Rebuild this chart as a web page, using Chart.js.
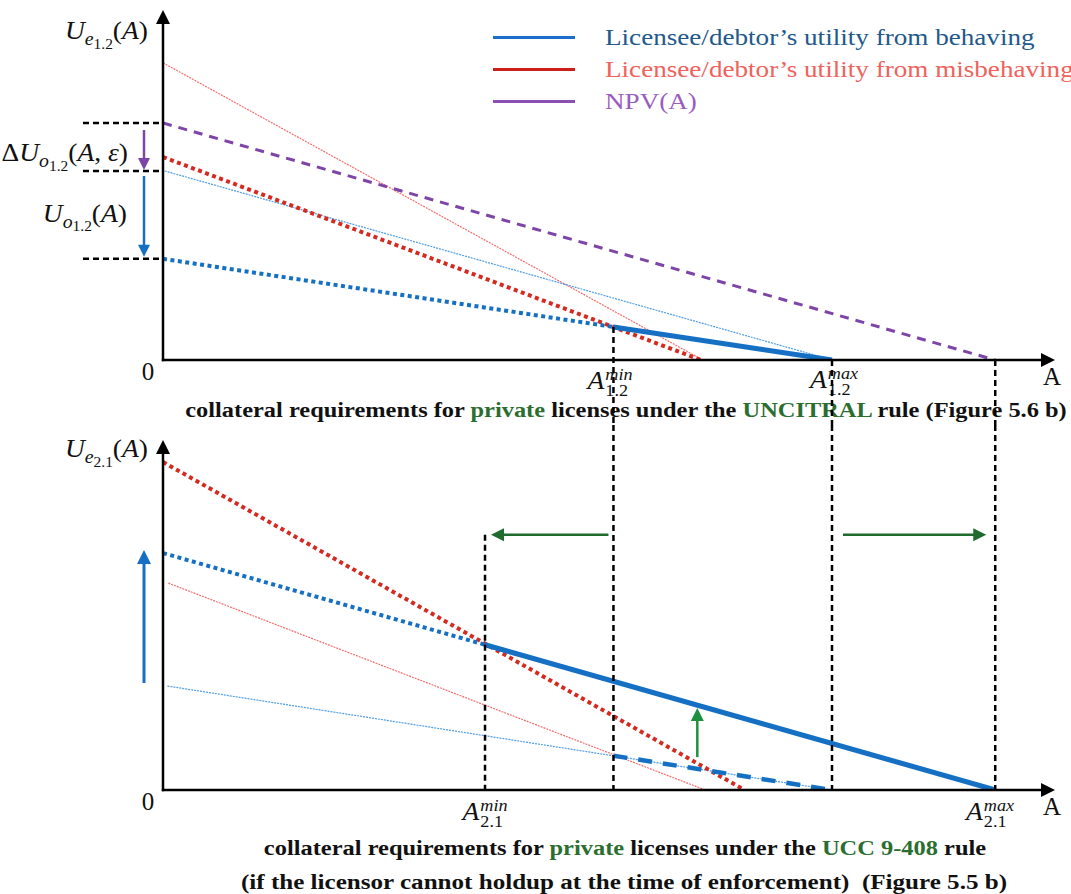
<!DOCTYPE html>
<html>
<head>
<meta charset="utf-8">
<title>Collateral requirements for private licenses</title>
<script src="https://cdn.jsdelivr.net/npm/chart.js@4.4.1/dist/chart.umd.min.js"></script>
<style>
  body { margin: 0; background: #fff; }
  #page { position: relative; width: 1071px; height: 894px; overflow: hidden;
          font-family: "Liberation Serif", "Times New Roman", serif; color: #111; }
  .box { position: absolute; left: 0; width: 1071px; z-index: 2; }
  #topBox { top: 0; height: 425px; }
  #botBox { top: 425px; height: 469px; }
  .lbl { position: absolute; white-space: nowrap; line-height: 1; z-index: 1; }
  .math { font-size: 25px; }
  .s1 { font-size: 0.72em; position: relative; top: 0.36em; }
  .s2 { font-size: 0.78em; position: relative; top: 0.22em; font-style: normal; }
  .ss { display: inline-block; vertical-align: -0.45em; font-size: 0.66em; line-height: 0.95; margin-left: 1px; }
  .ss span { display: block; }
  .cap { font-weight: bold; font-size: 20px; }
  .g { color: #2b6e30; }
  #legend { position: absolute; left: 493px; top: 21px; z-index: 1; }
  .lg { display: flex; align-items: center; height: 32px; font-size: 24px; }
  .lg i { display: inline-block; width: 82px; height: 3px; margin-right: 30px; }
  .lg span { display: inline-block; transform: scaleX(1.13); transform-origin: left center; white-space: nowrap; }
</style>
</head>
<body>
<div id="page">
  <div id="legend">
    <div class="lg" style="color:#22598a"><i style="background:#1a70c8"></i><span>Licensee/debtor’s utility from behaving</span></div>
    <div class="lg" style="color:#f0625c"><i style="background:#cc1f1a"></i><span>Licensee/debtor’s utility from misbehaving</span></div>
    <div class="lg" style="color:#9a5cc0"><i style="background:#8a4fb0"></i><span>NPV(A)</span></div>
  </div>

  <div id="lblTopY" class="lbl math"><i>U</i><span class="s1"><i>e</i><span class="s2">1.2</span></span>(<i>A</i>)</div>
  <div id="lblDelta" class="lbl math">Δ<i>U</i><span class="s1"><i>o</i><span class="s2">1.2</span></span>(<i>A</i>, <i>ε</i>)</div>
  <div id="lblUo" class="lbl math"><i>U</i><span class="s1"><i>o</i><span class="s2">1.2</span></span>(<i>A</i>)</div>
  <div id="lblTop0" class="lbl math">0</div>
  <div id="lblTopA" class="lbl math">A</div>
  <div id="lblTopMin" class="lbl math"><i>A</i><span class="ss"><span><i>min</i></span><span>1.2</span></span></div>
  <div id="lblTopMax" class="lbl math"><i>A</i><span class="ss"><span><i>max</i></span><span>1.2</span></span></div>
  <div id="cap1" class="lbl cap">collateral requirements for <span class="g">private</span> licenses under the <span class="g">UNCITRAL</span> rule (Figure 5.6 b)</div>

  <div id="lblBotY" class="lbl math"><i>U</i><span class="s1"><i>e</i><span class="s2">2.1</span></span>(<i>A</i>)</div>
  <div id="lblBot0" class="lbl math">0</div>
  <div id="lblBotA" class="lbl math">A</div>
  <div id="lblBotMin" class="lbl math"><i>A</i><span class="ss"><span><i>min</i></span><span>2.1</span></span></div>
  <div id="lblBotMax" class="lbl math"><i>A</i><span class="ss"><span><i>max</i></span><span>2.1</span></span></div>
  <div id="cap2" class="lbl cap">collateral requirements for <span class="g">private</span> licenses under the <span class="g">UCC 9-408</span> rule</div>
  <div id="cap3" class="lbl cap">(if the licensor cannot holdup at the time of enforcement)&nbsp;&nbsp;(Figure 5.5 b)</div>

  <div id="topBox" class="box"><canvas id="topChart"></canvas></div>
  <div id="botBox" class="box"><canvas id="botChart"></canvas></div>
</div>

<script>
// ---- top panel: UNCITRAL rule (Figure 5.6 b) ----
const A_MIN_12 = 5.05;
const A_MAX_12 = 7.5;
const NPV_ZERO = 9.33;

const topMisThinA = [0, 6.05];          const topMisThinU = [8.49, 0];
const topNpvA = [0, NPV_ZERO];           const topNpvU = [6.77, 0];
const topMisA = [0, 6.03];               const topMisU = [5.8, 0];
const topBehThinA = [0.02, A_MAX_12];    const topBehThinU = [5.4, 0];
const topBehDotA = [0, A_MIN_12];        const topBehDotU = [2.89, 0.944];
const topBehA = [A_MIN_12, A_MAX_12];    const topBehU = [0.944, 0];

// ---- bottom panel: UCC 9-408 rule (Figure 5.5 b) ----
const A_MIN_21 = 3.61;
const A_MAX_21 = 9.33;

const botMisA = [0, 6.52];               const botMisU = [9.37, 0];
const botMisThinA = [0.06, 6.08];        const botMisThinU = [5.91, 0];
const botBehDotA = [0, A_MIN_21];        const botBehDotU = [6.77, 4.15];
const botBehA = [A_MIN_21, A_MAX_21];    const botBehU = [4.15, 0];
const botBehThinA = [0.05, A_MAX_12];    const botBehThinU = [2.97, 0];
const botBehDashA = [A_MIN_12, A_MAX_12]; const botBehDashU = [0.98, 0];

// arrows in the bottom panel
const liftArrowA = 5.99;  const liftArrowU = [0.94, 2.34];
const shiftArrowU = 7.29;

const BLUE = '#1570c4', RED = '#d42a1f', PURPLE = '#7d45a8';
const THIN_BLUE = '#4f9de2', THIN_RED = '#f26e6e';

const pts = (xs, ys) => xs.map((x, i) => ({ x, y: ys[i] }));

function series(xs, ys, color, width, dash) {
    return {
        data: pts(xs, ys),
        borderColor: color,
        borderWidth: width,
        borderDash: dash || [],
        borderCapStyle: 'butt',
        pointRadius: 0,
        fill: false,
        tension: 0
    };
}

function dashLine(ctx, x1, y1, x2, y2) {
    ctx.save();
    ctx.strokeStyle = '#000';
    ctx.lineWidth = 2.5;
    ctx.setLineDash([6, 4]);
    ctx.beginPath(); ctx.moveTo(x1, y1); ctx.lineTo(x2, y2); ctx.stroke();
    ctx.restore();
}

function arrow(ctx, x1, y1, x2, y2, color, width, head) {
    const ang = Math.atan2(y2 - y1, x2 - x1);
    const c = Math.cos(ang), s = Math.sin(ang);
    ctx.save();
    ctx.strokeStyle = color; ctx.fillStyle = color;
    ctx.lineWidth = width; ctx.setLineDash([]);
    ctx.beginPath(); ctx.moveTo(x1, y1); ctx.lineTo(x2 - c * head * 0.7, y2 - s * head * 0.7); ctx.stroke();
    ctx.beginPath();
    ctx.moveTo(x2, y2);
    ctx.lineTo(x2 - c * head - s * head * 0.5, y2 - s * head + c * head * 0.5);
    ctx.lineTo(x2 - c * head + s * head * 0.5, y2 - s * head - c * head * 0.5);
    ctx.closePath(); ctx.fill();
    ctx.restore();
}

function axes(ctx, a) {
    arrow(ctx, a.left, a.bottom + 1.2, a.left, a.top, '#000', 2.5, 14);
    arrow(ctx, a.left - 1.2, a.bottom, a.right, a.bottom, '#000', 2.5, 14);
}

const topDecor = {
    id: 'topDecor',
    afterDatasetsDraw(chart) {
        const { ctx, chartArea: a, scales: { x, y } } = chart;
        // guides from the axis to the left
        [topNpvU[0], topBehThinU[0], topBehDotU[0]].forEach(u => {
            const py = y.getPixelForValue(u);
            dashLine(ctx, a.left - 80, py, a.left, py);
        });
        // verticals down through the caption
        dashLine(ctx, x.getPixelForValue(A_MIN_12), y.getPixelForValue(topBehU[0]), x.getPixelForValue(A_MIN_12), chart.height);
        dashLine(ctx, x.getPixelForValue(A_MAX_12), y.getPixelForValue(0), x.getPixelForValue(A_MAX_12), chart.height);
        dashLine(ctx, x.getPixelForValue(NPV_ZERO), y.getPixelForValue(0), x.getPixelForValue(NPV_ZERO), chart.height);
        axes(ctx, a);
        const ax = a.left - 19;
        arrow(ctx, ax, y.getPixelForValue(topNpvU[0]) + 7, ax, y.getPixelForValue(topBehThinU[0]) - 1, PURPLE, 2.5, 12);
        arrow(ctx, ax, y.getPixelForValue(topBehThinU[0]) + 5, ax, y.getPixelForValue(topBehDotU[0]) - 2, BLUE, 2.5, 12);
    }
};

const botDecor = {
    id: 'botDecor',
    afterDatasetsDraw(chart) {
        const { ctx, chartArea: a, scales: { x, y } } = chart;
        const y0 = y.getPixelForValue(0);
        [A_MIN_12, A_MAX_12, A_MAX_21].forEach(v => {
            dashLine(ctx, x.getPixelForValue(v), 0, x.getPixelForValue(v), y0);
        });
        const ys = y.getPixelForValue(shiftArrowU);
        dashLine(ctx, x.getPixelForValue(A_MIN_21), ys, x.getPixelForValue(A_MIN_21), y0);
        arrow(ctx, x.getPixelForValue(A_MIN_12) - 5, ys, x.getPixelForValue(A_MIN_21) + 6, ys, '#1f6b2e', 2.5, 13);
        arrow(ctx, x.getPixelForValue(A_MAX_12) + 11, ys, x.getPixelForValue(A_MAX_21) - 9, ys, '#1f6b2e', 2.5, 13);
        const lx = x.getPixelForValue(liftArrowA);
        arrow(ctx, lx, y.getPixelForValue(liftArrowU[0]), lx, y.getPixelForValue(liftArrowU[1]), '#1e9140', 2.5, 13);
        const bx = a.left - 19;
        arrow(ctx, bx, y.getPixelForValue(botBehThinU[0]) - 3, bx, y.getPixelForValue(botBehDotU[0]) - 3, BLUE, 3, 14);
        axes(ctx, a);
    }
};

function chartOptions(padding) {
    return {
        responsive: true,
        maintainAspectRatio: false,
        animation: false,
        events: [],
        layout: { padding },
        plugins: { legend: { display: false }, tooltip: { enabled: false } },
        scales: {
            x: { type: 'linear', min: 0, max: 10, display: false },
            y: { type: 'linear', min: 0, max: 10, display: false }
        }
    };
}

const topChart = new Chart(document.getElementById('topChart'), {
    type: 'line',
    data: {
        datasets: [
            series(topBehA, topBehU, BLUE, 5),
            series(topBehDotA, topBehDotU, BLUE, 4, [4, 3.5]),
            series(topMisA, topMisU, RED, 4, [4, 3.5]),
            series(topNpvA, topNpvU, PURPLE, 3, [9, 7]),
            series(topBehThinA, topBehThinU, THIN_BLUE, 1.2, [2, 1]),
            series(topMisThinA, topMisThinU, THIN_RED, 1.2, [2, 1])
        ]
    },
    options: chartOptions({ left: 163, right: 16, top: 10, bottom: 65 }),
    plugins: [topDecor]
});

const botChart = new Chart(document.getElementById('botChart'), {
    type: 'line',
    data: {
        datasets: [
            series(botBehA, botBehU, BLUE, 5),
            series(botBehDotA, botBehDotU, BLUE, 4, [4, 3.5]),
            series(botBehDashA, botBehDashU, BLUE, 4.5, [14, 11]),
            series(botMisA, botMisU, RED, 4, [4, 3.5]),
            series(botBehThinA, botBehThinU, THIN_BLUE, 1.2, [2, 1]),
            series(botMisThinA, botMisThinU, THIN_RED, 1.2, [2, 1])
        ]
    },
    options: chartOptions({ left: 163, right: 16, top: 15, bottom: 104 }),
    plugins: [botDecor]
});

// place the html labels from the chart scales
function put(id, px, py, ax, ay, fitWidth, sx) {
    const el = document.getElementById(id);
    el.style.left = px + 'px';
    el.style.top = py + 'px';
    let t = `translate(${-ax * 100}%, ${-ay * 100}%)`;
    if (fitWidth) t += ` scaleX(${fitWidth / el.offsetWidth})`;
    else if (sx) t += ` scaleX(${sx})`;
    el.style.transformOrigin = `${ax * 100}% 50%`;
    el.style.transform = t;
}

function placeLabels() {
    const ta = topChart.chartArea, tx = topChart.scales.x, ty = topChart.scales.y;
    const ba = botChart.chartArea, bx = botChart.scales.x;
    const off = 425;
    const st = 1.1;
    put('lblTopY', ta.left - 15, 30, 1, 0.5, 0, st);
    put('lblDelta', ta.left - 35, (ty.getPixelForValue(topNpvU[0]) + ty.getPixelForValue(topBehThinU[0])) / 2 + 5, 1, 0.5, 0, st);
    put('lblUo', ta.left - 36, (ty.getPixelForValue(topBehThinU[0]) + ty.getPixelForValue(topBehDotU[0])) / 2 - 2, 1, 0.5, 0, st);
    put('lblTop0', ta.left - 15, ta.bottom + 11, 0.5, 0.5);
    put('lblTopA', ta.right - 3, ta.bottom + 16, 0.5, 0.5);
    put('lblTopMin', tx.getPixelForValue(A_MIN_12) - 3, ta.bottom + 23, 0.5, 0.5, 0, st);
    put('lblTopMax', tx.getPixelForValue(A_MAX_12) + 2, ta.bottom + 22, 0.5, 0.5, 0, st);
    put('cap1', 626, 410, 0.5, 0.5, 882);

    put('lblBotY', ba.left - 15, off + ba.top + 8, 1, 0.5, 0, st);
    put('lblBot0', ba.left - 15, off + ba.bottom + 11, 0.5, 0.5);
    put('lblBotA', ba.right - 3, off + ba.bottom + 16, 0.5, 0.5);
    put('lblBotMin', bx.getPixelForValue(A_MIN_21), off + ba.bottom + 24, 0.5, 0.5, 0, st);
    put('lblBotMax', bx.getPixelForValue(A_MAX_21) - 5, off + ba.bottom + 24, 0.5, 0.5, 0, st);
    put('cap2', 625, 848, 0.5, 0.5, 722);
    put('cap3', 624, 882, 0.5, 0.5, 766);
}

placeLabels();
</script>
</body>
</html>
